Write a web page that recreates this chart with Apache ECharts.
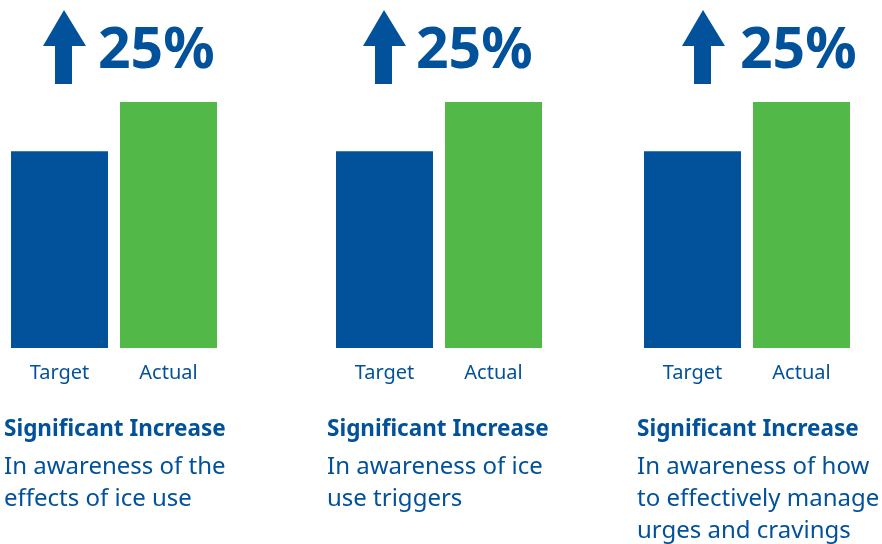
<!DOCTYPE html>
<html>
<head>
<meta charset="utf-8">
<script src="https://cdn.jsdelivr.net/npm/echarts@6/dist/echarts.min.js"></script>
<style>
  html, body { margin: 0; padding: 0; background: #fff; }
  #main { width: 882px; height: 544px; }
</style>
</head>
<body>
<div id="main"></div>
<script>
// data
const categories = ['Target', 'Actual'];
const targetValues = [100, 100, 100];
const actualValues = [125, 125, 125];
const headings = ['Significant Increase', 'Significant Increase', 'Significant Increase'];
const descriptions = [
  ['In awareness of the', 'effects of ice use'],
  ['In awareness of ice', 'use triggers'],
  ['In awareness of how', 'to effectively manage', 'urges and cravings']
];

const BLUE = '#02519b';
const GREEN = '#52b848';
const FONT = '"Noto Sans", sans-serif';

// layout per panel
const gridLeft = [5, 330, 638];
const arrowX = [43, 363, 682];
const pctX = [98, 416, 740];
const textX = [4, 327, 637];

let chart = echarts.init(document.getElementById('main'));

let grids = [], xAxes = [], yAxes = [], series = [], graphics = [];

for (let i = 0; i < 3; i++) {
  grids.push({ left: gridLeft[i], width: 218, top: 102, bottom: 196 });
  xAxes.push({
    type: 'category',
    gridIndex: i,
    data: categories,
    axisLine: { show: false },
    axisTick: { show: false },
    axisLabel: { color: BLUE, fontSize: 20, fontFamily: FONT, margin: 15 }
  });
  yAxes.push({
    type: 'value',
    gridIndex: i,
    min: 0,
    max: 125,
    show: false,
    splitLine: { show: false }
  });
  series.push({
    type: 'bar',
    xAxisIndex: i,
    yAxisIndex: i,
    barWidth: 97,
    silent: true,
    data: [
      { value: targetValues[i], itemStyle: { color: BLUE } },
      { value: actualValues[i], itemStyle: { color: GREEN } }
    ]
  });

  // up arrow
  let ax = arrowX[i];
  graphics.push({
    type: 'polygon',
    shape: {
      points: [[ax + 21, 10], [ax + 43, 46], [ax + 29, 46], [ax + 29, 84],
               [ax + 12, 84], [ax + 12, 46], [ax, 46]]
    },
    style: { fill: BLUE }
  });

  let pct = Math.round((actualValues[i] - targetValues[i]) / targetValues[i] * 100);
  graphics.push({
    type: 'text',
    left: pctX[i],
    top: 23,
    style: { text: pct + '%', fill: BLUE, font: 'bold 57px ' + FONT }
  });

  graphics.push({
    type: 'text',
    left: textX[i],
    top: 418,
    style: { text: headings[i], fill: BLUE, font: 'bold 22.5px ' + FONT }
  });
  graphics.push({
    type: 'text',
    left: textX[i],
    top: 451,
    style: { text: descriptions[i].join('\n'), fill: BLUE, font: '24px ' + FONT, lineHeight: 32 }
  });
}

let option = {
  animation: false,
  backgroundColor: '#fff',
  grid: grids,
  xAxis: xAxes,
  yAxis: yAxes,
  series: series,
  graphic: graphics
};

option && chart.setOption(option);
</script>
</body>
</html>
